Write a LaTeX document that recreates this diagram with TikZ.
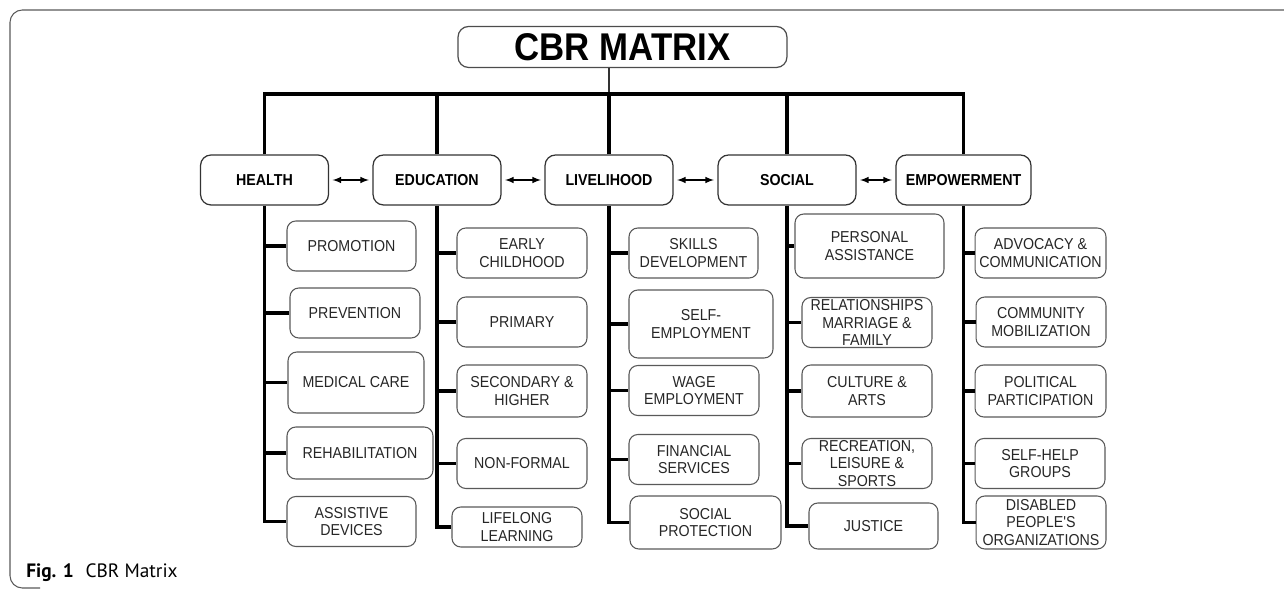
\documentclass[tikz,border=0pt]{standalone}
\usepackage{fontspec}
\setmainfont{Liberation Sans}
\newfontfamily\condfont[FakeStretch=0.9]{Liberation Sans}
\newfontfamily\capfont{PT Sans}
\begin{document}
\begin{tikzpicture}[
    x=0.02cm, y=-0.02cm,
    box/.style={draw=black!65, line width=0.6pt, rounded corners=5pt, align=center, inner sep=1pt, text=black!85, font=\condfont\fontsize{9}{10}\selectfont, minimum width=2.6cm, minimum height=1cm},
    area/.style={draw=black!80, line width=0.7pt, rounded corners=6pt, inner sep=1pt, minimum width=2.56cm, minimum height=1cm, font=\condfont\bfseries\fontsize{9}{10}\selectfont},
    titlebox/.style={draw=black!70, line width=0.7pt, rounded corners=6pt, minimum width=6.58cm, minimum height=0.82cm, inner sep=0pt, font=\condfont\bfseries\fontsize{22}{24}\selectfont},
    trunk/.style={line width=2.2pt},
    link/.style={<->, line width=0.7pt, shorten >=2pt, shorten <=2pt},
    >=latex,
]
    \useasboundingbox (0,0) rectangle (1284,590);
    \draw[black!65, line width=0.6pt, rounded corners=7pt] (1300,10) -- (10,10) -- (10,588) -- (40,588);

    \node[titlebox] (title) at (622.5,47) {CBR MATRIX};

    \node[area] (health) at (264.5,180) {HEALTH};
    \node[area] (edu) at (437,180) {EDUCATION};
    \node[area] (live) at (609,180) {LIVELIHOOD};
    \node[area, minimum width=2.76cm] (soc) at (787,180) {SOCIAL};
    \node[area, minimum width=2.7cm] (emp) at (963.5,180) {EMPOWERMENT};

    % health
    \node[box, minimum width=2.58cm] (h1) at (351.5,246) {PROMOTION};
    \node[box] (h2) at (355,313) {PREVENTION};
    \node[box, minimum width=2.72cm, minimum height=1.22cm] (h3) at (356,382.5) {MEDICAL CARE};
    \node[box, minimum width=2.92cm, minimum height=1.04cm] (h4) at (360,453) {REHABILITATION};
    \node[box, minimum width=2.58cm] (h5) at (351.5,521.5) {ASSISTIVE\\DEVICES};

    % education
    \node[box] (e1) at (522,253) {EARLY\\CHILDHOOD};
    \node[box] (e2) at (522,322) {PRIMARY};
    \node[box, minimum height=1.04cm] (e3) at (522,391) {SECONDARY \&\\HIGHER};
    \node[box] (e4) at (522,463.5) {NON-FORMAL};
    \node[box, minimum height=0.8cm] (e5) at (517,527) {LIFELONG\\LEARNING};

    % livelihood
    \node[box, minimum width=2.58cm] (l1) at (693.5,253) {SKILLS\\DEVELOPMENT};
    \node[box, minimum width=2.88cm, minimum height=1.36cm] (l2) at (701,324) {SELF-\\EMPLOYMENT};
    \node[box] (l3) at (694,390.5) {WAGE\\EMPLOYMENT};
    \node[box] (l4) at (694,459.5) {FINANCIAL\\SERVICES};
    \node[box, minimum width=3.02cm, minimum height=1.06cm] (l5) at (705.5,522.5) {SOCIAL\\PROTECTION};

    % social
    \node[box, minimum width=2.98cm, minimum height=1.28cm] (s1) at (869.5,246) {PERSONAL\\ASSISTANCE};
    \node[box] (s2) at (867,322.5) {RELATIONSHIPS\\MARRIAGE \&\\FAMILY};
    \node[box, minimum height=1.04cm] (s3) at (867,391) {CULTURE \&\\ARTS};
    \node[box] (s4) at (867,463.5) {RECREATION,\\LEISURE \&\\SPORTS};
    \node[box, minimum width=2.58cm, minimum height=0.92cm] (s5) at (873.5,526) {JUSTICE};

    % empowerment
    \node[box, minimum width=2.62cm] (p1) at (1040.5,253) {ADVOCACY \&\\COMMUNICATION};
    \node[box] (p2) at (1041,322) {COMMUNITY\\MOBILIZATION};
    \node[box, minimum width=2.62cm, minimum height=1.04cm] (p3) at (1040.5,391) {POLITICAL\\PARTICIPATION};
    \node[box] (p4) at (1040,463.5) {SELF-HELP\\GROUPS};
    \node[box, minimum height=1.06cm] (p5) at (1041,522.5) {DISABLED\\PEOPLE'S\\ORGANIZATIONS};

    \coordinate (bus) at (0,94);
    \draw[line width=0.8pt, black!80] (title.south -| live.north) -- (bus -| live.north);
    \draw[trunk] (health.north) |- (bus -| emp.north) -- (emp.north);
    \foreach \c in {edu, live, soc}
        \draw[trunk] (\c.north) -- (\c.north |- bus);

    \foreach \a/\b in {health/edu, edu/live, live/soc, soc/emp}
        \draw[link] (\a) -- (\b);

    \foreach \c/\s in {health/h, edu/e, live/l, soc/s, emp/p} {
        \draw[trunk] (\c.south) |- (\s5.west);
        \foreach \i in {1,...,4}
            \draw[trunk] (\c.south |- \s\i.west) -- (\s\i.west);
    }

    \node[anchor=base west, inner sep=0pt, font=\capfont\fontsize{11}{13}\selectfont] (cap) at (26,578) {\textbf{Fig. 1}\hspace{0.6em}CBR Matrix};
\end{tikzpicture}
\end{document}
